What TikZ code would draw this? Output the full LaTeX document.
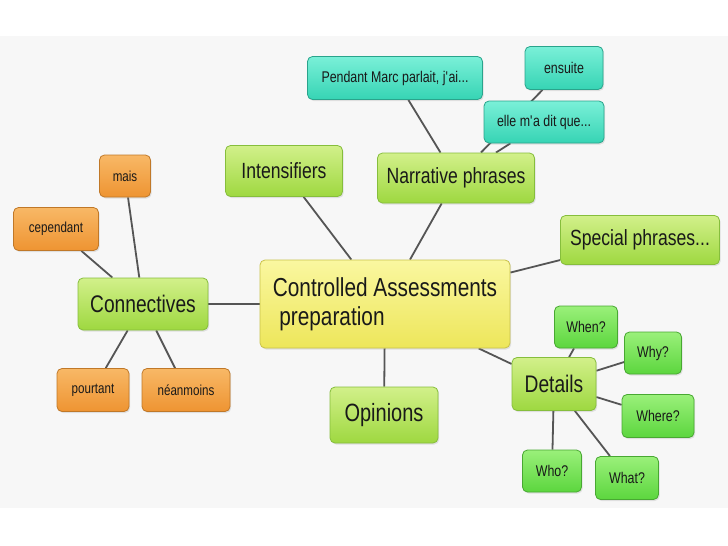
\documentclass[tikz,border=0pt]{standalone}
\usepackage{fontspec}
\setmainfont{Liberation Sans}[FakeStretch=0.8]
\usetikzlibrary{shadows,backgrounds}

\definecolor{lineGray}{HTML}{555555}
\definecolor{yelTop}{HTML}{FAF7A0}
\definecolor{yelBot}{HTML}{EDE65A}
\definecolor{yelDraw}{HTML}{C9C24A}
\definecolor{grnTop}{HTML}{D2F08A}
\definecolor{grnBot}{HTML}{9ED840}
\definecolor{grnDraw}{HTML}{86BE3C}
\definecolor{detTop}{HTML}{9AF07A}
\definecolor{detBot}{HTML}{5CD63E}
\definecolor{detDraw}{HTML}{48A832}
\definecolor{orTop}{HTML}{F8B866}
\definecolor{orBot}{HTML}{EE9432}
\definecolor{orDraw}{HTML}{C07828}
\definecolor{tlTop}{HTML}{7AF0D8}
\definecolor{tlBot}{HTML}{36D4B4}
\definecolor{tlDraw}{HTML}{2AA48C}

\begin{document}
\begin{tikzpicture}[
  x=1pt, y=-1pt,
  box/.style={rounded corners=5pt, line width=0.8pt, inner sep=2pt, text=black!90,
    drop shadow={opacity=0.2, shadow xshift=1.2pt, shadow yshift=-1.5pt}},
  core/.style={box, draw=yelDraw, top color=yelTop, bottom color=yelBot, align=left,
    font=\fontsize{26}{29}\selectfont},
  topic/.style={box, draw=grnDraw, top color=grnTop, bottom color=grnBot,
    font=\fontsize{22}{24}\selectfont},
  orng/.style={box, draw=orDraw, top color=orTop, bottom color=orBot,
    font=\fontsize{14.5}{16}\selectfont},
  teal/.style={box, draw=tlDraw, top color=tlTop, bottom color=tlBot,
    font=\fontsize{15.5}{17}\selectfont},
  det/.style={box, draw=detDraw, top color=detTop, bottom color=detBot,
    font=\fontsize{15.5}{17}\selectfont},
  link/.style={draw=lineGray, line width=1.8pt}
]
\useasboundingbox (0,0) rectangle (728,546);

% Centre
\node[core, minimum width=250pt, minimum height=88pt] (cap) at (385,304)
  {Controlled Assessments\\\hspace{0.25em}preparation};

% Main topics
\node[topic, minimum width=117pt, minimum height=51pt] (intens) at (284,171) {Intensifiers};
\node[topic, minimum width=157pt, minimum height=50pt] (narr) at (456,178) {Narrative phrases};
\node[topic, minimum width=159pt, minimum height=49pt] (spec) at (640,240) {Special phrases...};
\node[topic, minimum width=130pt, minimum height=52pt, font=\fontsize{24}{26}\selectfont] (conn) at (143,304) {Connectives};
\node[topic, minimum width=108pt, minimum height=56pt, font=\fontsize{25}{27}\selectfont] (opin) at (384,415) {Opinions};
\node[topic, minimum width=84pt, minimum height=53pt, font=\fontsize{24}{26}\selectfont] (det) at (554,384) {Details};

% Connectives
\node[orng, minimum width=51pt, minimum height=42pt] (mais) at (125,176) {mais};
\node[orng, minimum width=85pt, minimum height=43pt] (cepend) at (56,229) {cependant};
\node[orng, minimum width=72pt, minimum height=43pt] (pourt) at (93,390) {pourtant};
\node[orng, minimum width=88pt, minimum height=43pt] (neanm) at (186,390) {néanmoins};

% Narrative phrases
\node[teal, minimum width=175pt, minimum height=43pt] (pend) at (395,78) {Pendant Marc parlait, j\textquotesingle ai...};
\node[teal, minimum width=78pt, minimum height=43pt] (ensuite) at (564,68) {ensuite};
\node[teal, minimum width=120pt, minimum height=42pt] (elle) at (544,122) {elle m\textquotesingle a dit que...};

% Details
\node[det, minimum width=63pt, minimum height=42pt] (when) at (586,327) {When?};
\node[det, minimum width=57pt, minimum height=42pt] (why) at (653,353) {Why?};
\node[det, minimum width=72pt, minimum height=43pt] (where) at (658,416) {Where?};
\node[det, minimum width=59pt, minimum height=42pt] (who) at (552,471) {Who?};
\node[det, minimum width=63pt, minimum height=43pt] (what) at (627,478) {What?};

% Slide band and links, kept behind the boxes
\begin{scope}[on background layer]
\fill[black!3] (0,36) rectangle (728,508);
\draw[link] (cap) -- (intens);
\draw[link] (cap) -- (narr);
\draw[link] (cap) -- (spec);
\draw[link] (cap) -- (conn);
\draw[link] (cap) -- (opin);
\draw[link] (cap) -- (det);
\draw[link] (conn) -- (mais);
\draw[link] (conn) -- (cepend);
\draw[link] (conn) -- (pourt);
\draw[link] (conn) -- (neanm);
\draw[link] (narr) -- (pend);
\draw[link] (narr) -- (ensuite);
\draw[link] (narr) -- (elle);
\draw[link] (det) -- (when);
\draw[link] (det) -- (why);
\draw[link] (det) -- (where);
\draw[link] (det) -- (who);
\draw[link] (det) -- (what);
\end{scope}
\end{tikzpicture}
\end{document}
